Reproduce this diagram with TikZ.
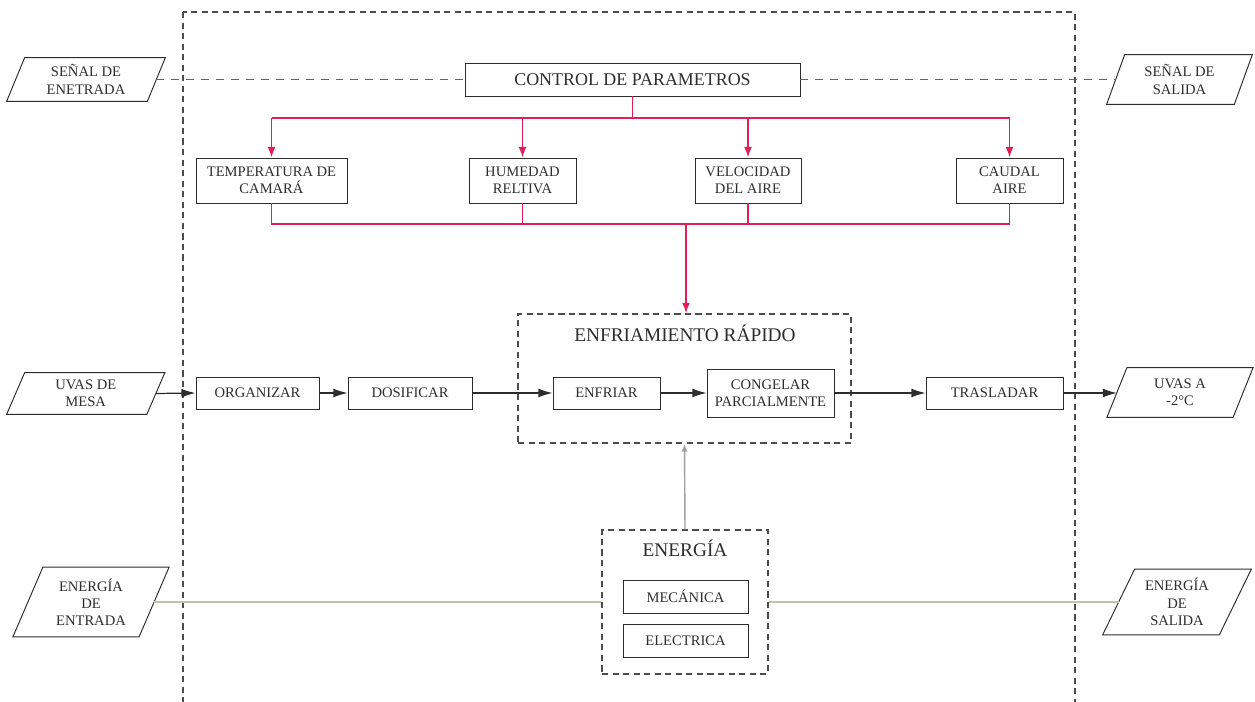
\documentclass[tikz,border=0pt]{standalone}
\usepackage{fontspec}
\setmainfont{Liberation Serif}
\usetikzlibrary{arrows.meta}
\newcommand\upx{0.02cm}
\definecolor{redl}{RGB}{225,30,85}
\definecolor{ink}{RGB}{45,45,45}
\definecolor{eline}{RGB}{195,195,170}
\definecolor{gline}{RGB}{160,160,160}
\definecolor{sigc}{RGB}{100,100,100}
\tikzset{
 box/.style={draw=ink, line width=0.55pt, text=ink, font=\fontsize{8.3}{9.8}\selectfont, align=center, inner sep=1pt},
 ptext/.style={text=ink, font=\fontsize{8.3}{9.8}\selectfont, align=center, inner sep=0pt},
 pline/.style={draw=ink, line width=0.55pt},
 title/.style={text=ink, font=\fontsize{11}{13}\selectfont, inner sep=1pt},
 group/.style={draw=ink!85, dash pattern=on 3.5pt off 2.5pt, line width=0.8pt},
 flow/.style={draw=ink, line width=0.7pt, -{Latex[length=8pt,width=5pt]}},
 redarr/.style={draw=redl, line width=0.9pt, -{Latex[length=6pt,width=4.5pt]}},
 redline/.style={draw=redl, line width=0.9pt},
 grayarr/.style={draw=gline, line width=0.8pt, -{Latex[length=4.5pt,width=3.5pt]}},
 enline/.style={draw=eline, line width=1pt},
 sigline/.style={draw=sigc, line width=0.7pt, dash pattern=on 4.5pt off 4pt},
}
% name, cx, cy, w, h, half slant, text
\newcommand\para[7]{%
 \node[ptext, minimum width=#4*\upx, minimum height=#5*\upx] (#1) at (#2,#3) {#7};
 \draw[pline] ([xshift=-#6*\upx]#1.south west) -- ([xshift=-#6*\upx]#1.south east)
   -- ([xshift=#6*\upx]#1.north east) -- ([xshift=#6*\upx]#1.north west) -- cycle;
}
\begin{document}
\begin{tikzpicture}[x=0.02cm, y=-0.02cm]
\useasboundingbox (0,0) rectangle (1255,702);
% outer system boundary
\coordinate (otl) at (183,12);
\coordinate (obr) at (1075,740);
\draw[group] (otl) rectangle (obr);

% inputs / outputs
\para{sin}{86}{79.5}{140}{43}{9}{SEÑAL DE\\ENETRADA}
\para{sout}{1179.5}{79.5}{127}{49}{9}{SEÑAL DE\\SALIDA}
\para{uin}{85.75}{393.5}{139.5}{41}{9}{UVAS DE\\MESA}
\para{uout}{1180}{392.5}{125.5}{49}{10}{UVAS A\\-2°C}
\para{ein}{91}{602}{125.5}{69}{15}{ENERGÍA\\DE\\ENTRADA}
\para{eout}{1177}{602}{116}{65}{16}{ENERGÍA\\DE\\SALIDA}

% control
\node[box, font=\fontsize{10.2}{12}\selectfont, minimum width=335*\upx, minimum height=33*\upx] (ctrl) at (632.5,79.5) {CONTROL DE PARAMETROS};
\node[box, minimum width=151*\upx, minimum height=45*\upx] (temp) at (271.5,180.5) {TEMPERATURA DE\\CAMARÁ};
\node[box, minimum width=107*\upx, minimum height=45*\upx] (hum) at (522.5,180.5) {HUMEDAD\\RELTIVA};
\node[box, minimum width=106*\upx, minimum height=45*\upx] (vel) at (748,180.5) {VELOCIDAD\\DEL AIRE};
\node[box, minimum width=107*\upx, minimum height=45*\upx] (cau) at (1009.5,180.5) {CAUDAL\\AIRE};

% process groups
\node[group, minimum width=333*\upx, minimum height=129*\upx] (enfr) at (684.5,378.5) {};
\node[title] (tenf) at (685,333) {ENFRIAMIENTO RÁPIDO};
\node[group, minimum width=166*\upx, minimum height=144*\upx] (ener) at (685,602) {};
\node[title] (tene) at (685,548) {ENERGÍA};

% process boxes
\node[box, minimum width=123*\upx, minimum height=32*\upx] (org) at (257.5,393) {ORGANIZAR};
\node[box, minimum width=124*\upx, minimum height=32*\upx] (dos) at (410,393) {DOSIFICAR};
\node[box, minimum width=107*\upx, minimum height=32*\upx] (enf) at (606.5,393) {ENFRIAR};
\node[box, minimum width=127*\upx, minimum height=48*\upx] (cong) at (770.5,393) {CONGELAR\\PARCIALMENTE};
\node[box, minimum width=137*\upx, minimum height=32*\upx] (tras) at (994.5,393) {TRASLADAR};
\node[box, minimum width=125*\upx, minimum height=33*\upx] (mec) at (685.5,596.5) {MECÁNICA};
\node[box, minimum width=125*\upx, minimum height=33*\upx] (ele) at (685.5,640.5) {ELECTRICA};

% signal line
\draw[sigline] (sin.east) -- (ctrl.west);
\draw[sigline] (ctrl.east) -- (sout.west);

% red control distribution
\coordinate (rt) at (631,118);
\coordinate (rb) at (686,224);
\draw[redline] (ctrl.south) -- (ctrl.south |- rt);
\draw[redline] (temp.north |- rt) -- (cau.north |- rt);
\draw[redarr] (temp.north |- rt) -- (temp.north);
\draw[redarr] (hum.north |- rt) -- (hum.north);
\draw[redarr] (vel.north |- rt) -- (vel.north);
\draw[redarr] (cau.north |- rt) -- (cau.north);
\draw[redline] (temp.south) -- (temp.south |- rb) -- (cau.south |- rb) -- (cau.south);
\draw[redline] (hum.south) -- (hum.south |- rb);
\draw[redline] (vel.south) -- (vel.south |- rb);
\draw[redarr] (rb) -- (rb |- enfr.north);

% main flow
\draw[flow] (uin.east) -- (org.west);
\draw[flow] (org.east) -- (dos.west);
\draw[flow] (dos.east) -- (enf.west);
\draw[flow] (enf.east) -- (cong.west);
\draw[flow] (cong.east) -- (tras.west);
\draw[flow] (tras.east) -- (tras.east -| uout.west);

% energy
\draw[grayarr] (ener.north) -- (enfr.south);
\draw[enline] (ein.east) -- (ener.west);
\draw[enline] (ener.east) -- (eout.west);
\end{tikzpicture}
\end{document}
